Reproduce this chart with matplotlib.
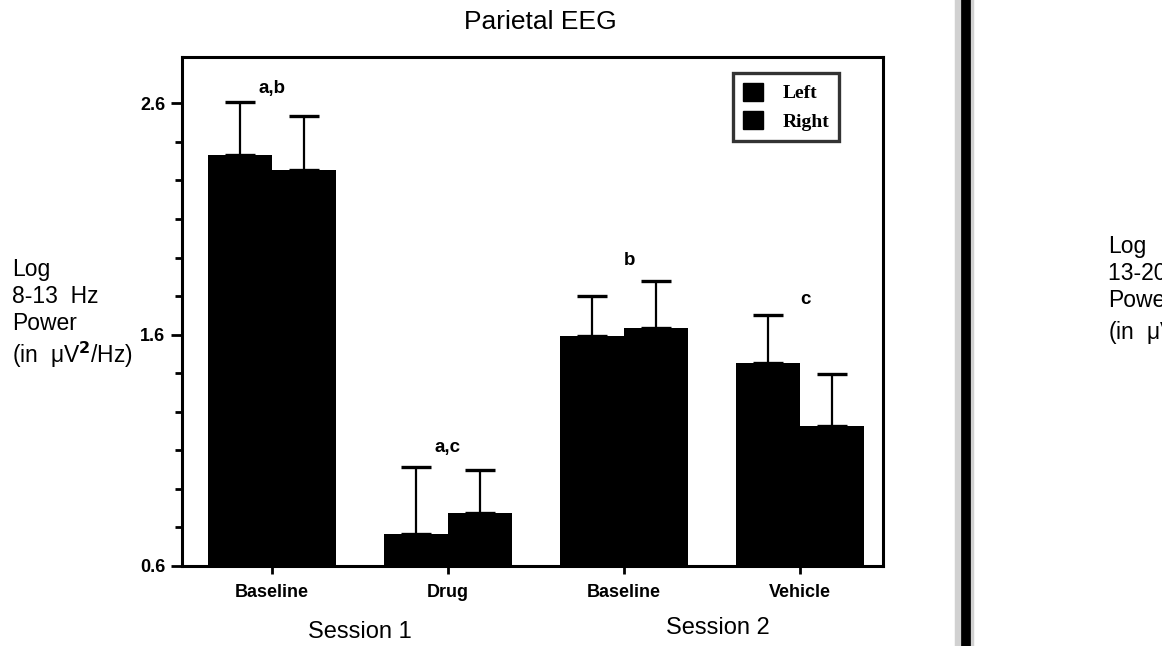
import matplotlib
matplotlib.use("Agg")
import matplotlib.pyplot as plt
import numpy as np
from matplotlib.lines import Line2D
from matplotlib.patches import Patch

plt.rcParams['font.family'] = ['Liberation Sans', 'DejaVu Sans']

conditions = ["Baseline", "Drug", "Baseline", "Vehicle"]
sessions = ["Session 1", "Session 2"]
left_vals = [2.375, 0.738, 1.594, 1.477]
right_vals = [2.311, 0.829, 1.628, 1.205]
left_err = [0.229, 0.290, 0.172, 0.207]
right_err = [0.233, 0.186, 0.203, 0.224]
sig_labels = ["a,b", "a,c", "b", "c"]
sig_y = [2.665, 1.114, 1.922, 1.753]
series_names = ["Left", "Right"]

fig = plt.figure(figsize=(11.62, 6.46), dpi=100)
ax = fig.add_axes([182/1162, 1-566/646, (883-182)/1162, (566-57)/646])

x = np.arange(len(conditions))
w = 0.364
ax.bar(x - w/2, left_vals, width=w, color='black', zorder=2)
ax.bar(x + w/2, right_vals, width=w, color='black', zorder=2)
ax.errorbar(x - w/2, left_vals, yerr=[np.zeros(len(x)), left_err], fmt='none',
            ecolor='black', elinewidth=1.6, capsize=11, capthick=2.4, zorder=3)
ax.errorbar(x + w/2, right_vals, yerr=[np.zeros(len(x)), right_err], fmt='none',
            ecolor='black', elinewidth=1.6, capsize=11, capthick=2.4, zorder=3)

for xi, lab, yy in zip(x, sig_labels, sig_y):
    ax.text(xi + (0.03 if lab in ("b", "c") else 0), yy, lab, ha='center', va='center',
            fontsize=13.5, fontweight='bold')

ax.set_ylim(0.6, 2.8)
ax.set_xlim(-0.51, 3.47)
ax.set_yticks([0.6, 1.6, 2.6])
ax.set_yticklabels(["0.6", "1.6", "2.6"], fontsize=13, fontweight='bold')
minor = [0.6 + k/6 for k in range(1, 13) if k % 6 != 0]
ax.set_yticks(minor, minor=True)
ax.set_xticks(x)
ax.set_xticklabels(conditions, fontsize=13, fontweight='bold')
ax.tick_params(axis='y', which='major', length=8, width=2, direction='out', pad=4)
ax.tick_params(axis='y', which='minor', length=5, width=2, direction='out')
ax.tick_params(axis='x', which='major', length=6, width=2, direction='out', pad=7)
for s in ax.spines.values():
    s.set_linewidth(2.2)

fig.text(540/1162, 1-22/646, "Parietal EEG", fontsize=19, ha='center', va='center')

handles = [Patch(facecolor='black', edgecolor='black') for _ in series_names]
leg = ax.legend(handles, series_names, loc='upper right', bbox_to_anchor=(0.946, 0.98),
                prop={'family': 'Liberation Serif', 'weight': 'bold', 'size': 14},
                frameon=True, fancybox=False, edgecolor='black', handlelength=1.05,
                handleheight=1.05, handletextpad=1.0, borderpad=0.5, labelspacing=0.45,
                borderaxespad=0.3)
leg.get_frame().set_linewidth(2.4)

fig.text(12/1162, 1-314/646, "Log\n8-13  Hz\nPower\n(in  \u03bcV$^\\mathbf{2}$/Hz)",
         fontsize=16.5, ha='left', va='center', linespacing=1.22)

fig.text(360/1162, 1-632/646, sessions[0], fontsize=17, ha='center', va='center')
fig.text(718/1162, 1-628/646, sessions[1], fontsize=17, ha='center', va='center')

# right-hand separator and cut-off neighbouring panel label
fig.add_artist(Line2D([964/1162, 964/1162], [0, 1], color='#9a9a9a', linewidth=14, alpha=0.45))
fig.add_artist(Line2D([966/1162, 966/1162], [0, 1], color='black', linewidth=7))
fig.text(1108/1162, 1-291/646, "Log\n13-20 Hz\nPower\n(in  \u03bcV$^2$/Hz)",
         fontsize=16.5, ha='left', va='center', linespacing=1.22)

fig.savefig("out.png", dpi=100)
